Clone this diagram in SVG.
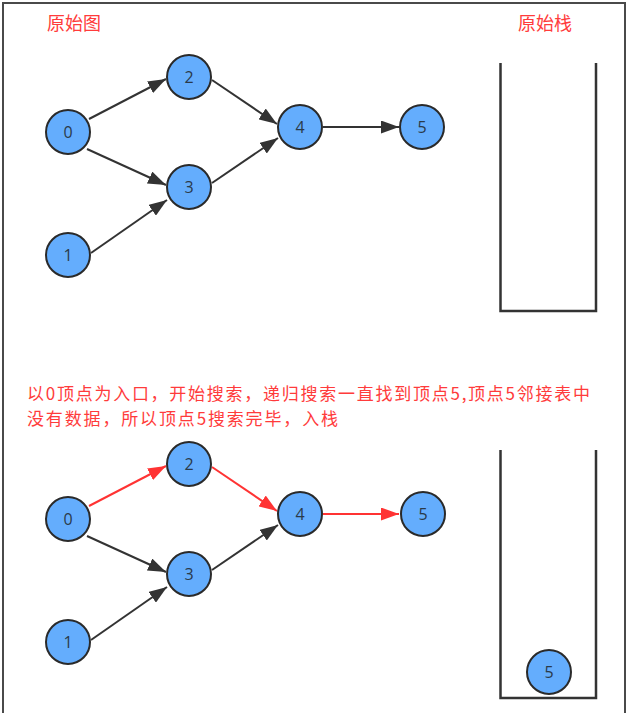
<svg xmlns="http://www.w3.org/2000/svg" width="627" height="713" viewBox="0 0 627 713">
<defs>
<style>
.frame{fill:none;stroke:#4a4a4a;stroke-width:2}
.stack{fill:none;stroke:#333;stroke-width:2.5}
.node circle{fill:#64adfd;stroke:#2a2a2a;stroke-width:2}
.node text{font-family:"Open Sans","Liberation Sans",sans-serif;font-size:16px;fill:#2a3a4a;text-anchor:middle;dominant-baseline:central}
.edge{stroke:#333;stroke-width:2;fill:none;marker-end:url(#ab)}
.edge.red{stroke:#ff3333;marker-end:url(#ar)}
.title{font-family:"Noto Sans CJK SC","Noto Sans",sans-serif;font-size:18px;fill:#ff3b3b}
.note{font-family:"Noto Sans CJK SC","Noto Sans",sans-serif;font-size:17px;fill:#ff3b3b}
</style>
<marker id="ab" markerUnits="userSpaceOnUse" markerWidth="18" markerHeight="13" refX="18" refY="6.5" orient="auto"><path d="M0,0 L18,6.5 L0,13 z" fill="#333"/></marker>
<marker id="ar" markerUnits="userSpaceOnUse" markerWidth="18" markerHeight="13" refX="18" refY="6.5" orient="auto"><path d="M0,0 L18,6.5 L0,13 z" fill="#ff3333"/></marker>
</defs>
<rect width="627" height="713" fill="#fff"/>
<path class="frame" d="M3,714 V3 H625 V714"/>
<text class="title" x="47" y="30">原始图</text>
<text class="title" x="518" y="30">原始栈</text>
<text class="note" x="27" y="400" textLength="563" lengthAdjust="spacing">以0顶点为入口，开始搜索，递归搜索一直找到顶点5,顶点5邻接表中</text>
<text class="note" x="27" y="425" textLength="311" lengthAdjust="spacing">没有数据，所以顶点5搜索完毕，入栈</text>
<g id="stack1"><path class="stack" d="M500.5,63 V311 H596 V63"/></g>
<g id="stack2"><path class="stack" d="M500.5,450 V698 H596 V450"/></g>
<g id="connectors">
<line class="edge" x1="89" y1="119" x2="166" y2="79"/>
<line class="edge" x1="87" y1="149" x2="166" y2="185"/>
<line class="edge" x1="91" y1="253" x2="167" y2="200"/>
<line class="edge" x1="212" y1="80" x2="277" y2="124"/>
<line class="edge" x1="212" y1="183" x2="278" y2="138"/>
<line class="edge" x1="323" y1="127" x2="399" y2="127"/>
<line class="edge red" x1="89" y1="506" x2="166" y2="466"/>
<line class="edge" x1="87" y1="536" x2="166" y2="572"/>
<line class="edge" x1="91" y1="640" x2="167" y2="587"/>
<line class="edge red" x1="212" y1="467" x2="277" y2="511"/>
<line class="edge" x1="212" y1="570" x2="278" y2="525"/>
<line class="edge red" x1="323" y1="514" x2="399" y2="514"/>
</g>
<g id="n0" class="node"><circle cx="68" cy="132" r="22"/><text x="68" y="132">0</text></g>
<g id="n1" class="node"><circle cx="68" cy="255" r="22"/><text x="68" y="255">1</text></g>
<g id="n2" class="node"><circle cx="189" cy="77" r="22"/><text x="189" y="77">2</text></g>
<g id="n3" class="node"><circle cx="189" cy="187" r="22"/><text x="189" y="187">3</text></g>
<g id="n4" class="node"><circle cx="300" cy="127" r="22"/><text x="300" y="127">4</text></g>
<g id="n5" class="node"><circle cx="422" cy="127" r="22"/><text x="422" y="127">5</text></g>
<g id="m0" class="node"><circle cx="68" cy="519" r="22"/><text x="68" y="519">0</text></g>
<g id="m1" class="node"><circle cx="68" cy="642" r="22"/><text x="68" y="642">1</text></g>
<g id="m2" class="node"><circle cx="189" cy="464" r="22"/><text x="189" y="464">2</text></g>
<g id="m3" class="node"><circle cx="189" cy="574" r="22"/><text x="189" y="574">3</text></g>
<g id="m4" class="node"><circle cx="300" cy="514" r="22"/><text x="300" y="514">4</text></g>
<g id="m5" class="node"><circle cx="423" cy="514" r="22"/><text x="423" y="514">5</text></g>
<g id="s5" class="node"><circle cx="549" cy="672" r="22"/><text x="549" y="672">5</text></g>
</svg>
